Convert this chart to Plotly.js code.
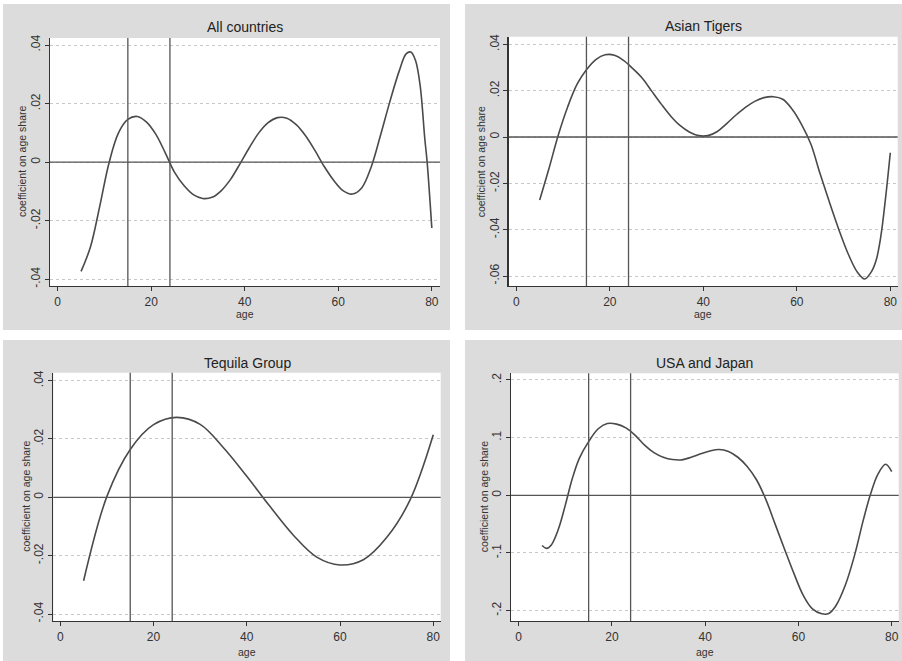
<!DOCTYPE html>
<html>
<head>
<meta charset="utf-8">
<script src="https://cdn.plot.ly/plotly-3.0.1.min.js"></script>
<style>html,body{margin:0;padding:0;background:#fff;}#chart{width:902px;height:661px;}</style>
</head>
<body>
<div id="chart"></div>
<script>
// ---- data ----
const panelTitles = ["All countries", "Asian Tigers", "Tequila Group", "USA and Japan"];
const xAxisTitle = "age";
const yAxisTitle = "coefficient on age share";
const markerAges = [15, 24];
const xTickVals = [0, 20, 40, 60, 80];
const xTickText = ["0", "20", "40", "60", "80"];

const ageAll = [5, 7, 9, 11, 13, 15, 17, 19, 21, 23, 25, 27, 29, 31, 33, 35, 37, 39, 41, 43, 45, 47, 49, 51, 53, 55, 57, 59, 61, 63, 65, 67, 69, 71, 73, 74.5, 75.5, 76.5, 77.5, 78.5, 79, 80];
const coefAll = [-0.0373, -0.0290, -0.0150, -0.0001, 0.0100, 0.0146, 0.0156, 0.0137, 0.0095, 0.0032, -0.0035, -0.0080, -0.0111, -0.0124, -0.0120, -0.0097, -0.0058, -0.0005, 0.0050, 0.0100, 0.0135, 0.0152, 0.0150, 0.0128, 0.0090, 0.0040, -0.0015, -0.0062, -0.0097, -0.0109, -0.0088, -0.0018, 0.0090, 0.0205, 0.0310, 0.0370, 0.0376, 0.0348, 0.0262, 0.0080, 0.0000, -0.0225];

const ageTigers = [5, 7, 9, 11, 13, 15, 17, 19, 21, 23, 25, 27, 29, 31, 33, 35, 37, 39, 41, 43, 45, 47, 49, 51, 53, 55, 57, 59, 61, 63, 65, 67, 69, 71, 73, 74.5, 76, 77, 78, 79, 80];
const coefTigers = [-0.0272, -0.0135, 0.0010, 0.0131, 0.0228, 0.0290, 0.0334, 0.0355, 0.0353, 0.0330, 0.0294, 0.0253, 0.0197, 0.0142, 0.0091, 0.0050, 0.0022, 0.0006, 0.0006, 0.0024, 0.0058, 0.0095, 0.0128, 0.0154, 0.0170, 0.0174, 0.0163, 0.0120, 0.0055, -0.0030, -0.0160, -0.0283, -0.0400, -0.0505, -0.0585, -0.0613, -0.0580, -0.0530, -0.0425, -0.0260, -0.0068];

const ageTequila = [5, 10, 15, 20, 25, 30, 35, 40, 45, 50, 55, 60, 65, 70, 75, 80];
const coefTequila = [-0.0286, 0.0003, 0.0164, 0.0249, 0.0274, 0.0250, 0.0170, 0.0072, -0.0032, -0.0130, -0.0205, -0.0232, -0.0214, -0.0138, -0.0010, 0.0214];

const ageUSJ = [5, 6, 7, 8.5, 10, 11.5, 13, 15, 17, 19, 21, 23, 25, 27, 29, 31, 33, 35, 37, 39, 41, 43, 45, 47, 49, 51, 53, 55, 57, 59, 61, 63, 65, 66.5, 68, 70, 72, 74, 75.5, 77, 78.7, 80];
const coefUSJ = [-0.087, -0.092, -0.086, -0.059, -0.017, 0.029, 0.064, 0.093, 0.115, 0.1245, 0.1235, 0.117, 0.104, 0.087, 0.074, 0.066, 0.062, 0.0615, 0.066, 0.072, 0.077, 0.0795, 0.076, 0.066, 0.050, 0.027, -0.007, -0.050, -0.093, -0.135, -0.173, -0.197, -0.2055, -0.205, -0.192, -0.157, -0.105, -0.040, 0.003, 0.036, 0.0538, 0.041];

const yTickValsA = [-0.04, -0.02, 0, 0.02, 0.04];
const yTickTextA = ["-.04", "-.02", "0", ".02", ".04"];
const yTickValsB = [-0.06, -0.04, -0.02, 0, 0.02, 0.04];
const yTickTextB = ["-.06", "-.04", "-.02", "0", ".02", ".04"];
const yTickValsC = [-0.2, -0.1, 0, 0.1, 0.2];
const yTickTextC = ["-.2", "-.1", "0", ".1", ".2"];

// ---- layout ----
const W = 902, H = 661;
const px = v => v / W, py = v => 1 - v / H;
const font = "Liberation Sans, Arial, Helvetica, sans-serif";
const lineCol = "#4a4a4a";

const panels = [
  {x: ageAll, y: coefAll, box: [50, 440, 38, 286], xr: [-1.645, 81.75], yr: [-0.0423, 0.0424], tv: yTickValsA, tt: yTickTextA, bg: [3, 450, 4, 330], titleY: 27, ageY: 314, ytX: 22},
  {x: ageTigers, y: coefTigers, box: [508.7, 897.7, 36.7, 286], xr: [-1.63, 81.58], yr: [-0.0643, 0.0433], tv: yTickValsB, tt: yTickTextB, bg: [465, 902, 4, 330], titleY: 26, ageY: 314, ytX: 481},
  {x: ageTequila, y: coefTequila, box: [53.3, 440.7, 372.7, 621], xr: [-1.5, 81.59], yr: [-0.0424, 0.0427], tv: yTickValsA, tt: yTickTextA, bg: [3, 450, 340, 661], titleY: 363, ageY: 652, ytX: 26},
  {x: ageUSJ, y: coefUSJ, box: [511, 898.7, 373.3, 621], xr: [-1.65, 81.5], yr: [-0.218, 0.2116], tv: yTickValsC, tt: yTickTextC, bg: [465, 902, 340, 661], titleY: 363, ageY: 652, ytX: 484}
];

const traces = [];
const layout = {
  width: W, height: H,
  margin: {l: 0, r: 0, t: 0, b: 0},
  paper_bgcolor: "#ffffff",
  plot_bgcolor: "#ffffff",
  showlegend: false,
  font: {family: font, color: "#333"},
  shapes: [], annotations: []
};

panels.forEach((p, i) => {
  const n = i + 1;
  const xa = "xaxis" + (n === 1 ? "" : n), ya = "yaxis" + (n === 1 ? "" : n);
  const xr = "x" + (n === 1 ? "" : n), yr = "y" + (n === 1 ? "" : n);
  layout.shapes.push({type: "rect", xref: "paper", yref: "paper", layer: "below",
    x0: px(p.bg[0]), x1: px(p.bg[1]), y0: py(p.bg[3]), y1: py(p.bg[2]),
    fillcolor: "#dcdcdc", line: {width: 0}});
  layout.shapes.push({type: "rect", xref: "paper", yref: "paper", layer: "below",
    x0: px(p.box[0]), x1: px(p.box[1]), y0: py(p.box[3]), y1: py(p.box[2]),
    fillcolor: "#ffffff", line: {width: 0}});
  layout.shapes.push({type: "line", xref: xr + " domain", yref: yr, x0: 0, x1: 1, y0: 0, y1: 0,
    line: {color: "#555", width: 1.3}});
  markerAges.forEach(a => layout.shapes.push({type: "line", xref: xr, yref: yr + " domain",
    x0: a, x1: a, y0: 0, y1: 1, line: {color: "#555", width: 1.3}}));

  layout[xa] = {
    domain: [px(p.box[0]), px(p.box[1])], range: p.xr, anchor: yr,
    tickvals: xTickVals, ticktext: xTickText, ticks: "outside", ticklen: 4, tickcolor: "#333",
    showline: true, linecolor: "#333", linewidth: 1.3, showgrid: false, zeroline: false,
    tickfont: {size: 12, color: "#333", family: font}
  };
  layout[ya] = {
    domain: [py(p.box[3]), py(p.box[2])], range: p.yr, anchor: xr,
    tickvals: p.tv, ticktext: p.tt, tickangle: -90, ticks: "outside", ticklen: 4, tickcolor: "#333",
    showline: true, linecolor: "#333", linewidth: 1.3, zeroline: false,
    showgrid: true, gridcolor: "#c8c8c8", griddash: "dot", gridwidth: 1,
    tickfont: {size: 12, color: "#333", family: font}
  };
  layout.annotations.push({text: panelTitles[i], xref: "paper", yref: "paper",
    x: (px(p.box[0]) + px(p.box[1])) / 2, y: py(p.titleY), xanchor: "center", yanchor: "middle",
    showarrow: false, font: {size: 14, color: "#222", family: font}});
  layout.annotations.push({text: xAxisTitle, xref: "paper", yref: "paper",
    x: (px(p.box[0]) + px(p.box[1])) / 2, y: py(p.ageY), xanchor: "center", yanchor: "middle",
    showarrow: false, font: {size: 10.5, color: "#333", family: font}});
  layout.annotations.push({text: yAxisTitle, xref: "paper", yref: "paper", textangle: -90,
    x: px(p.ytX), y: (py(p.box[3]) + py(p.box[2])) / 2, xanchor: "center", yanchor: "middle",
    showarrow: false, font: {size: 10.5, color: "#333", family: font}});

  traces.push({type: "scatter", mode: "lines", x: p.x, y: p.y, xaxis: xr, yaxis: yr,
    line: {color: lineCol, width: 1.6, shape: "spline", smoothing: 1}, hoverinfo: "skip"});
});

Plotly.newPlot("chart", traces, layout, {staticPlot: true, displayModeBar: false});
</script>
</body>
</html>
